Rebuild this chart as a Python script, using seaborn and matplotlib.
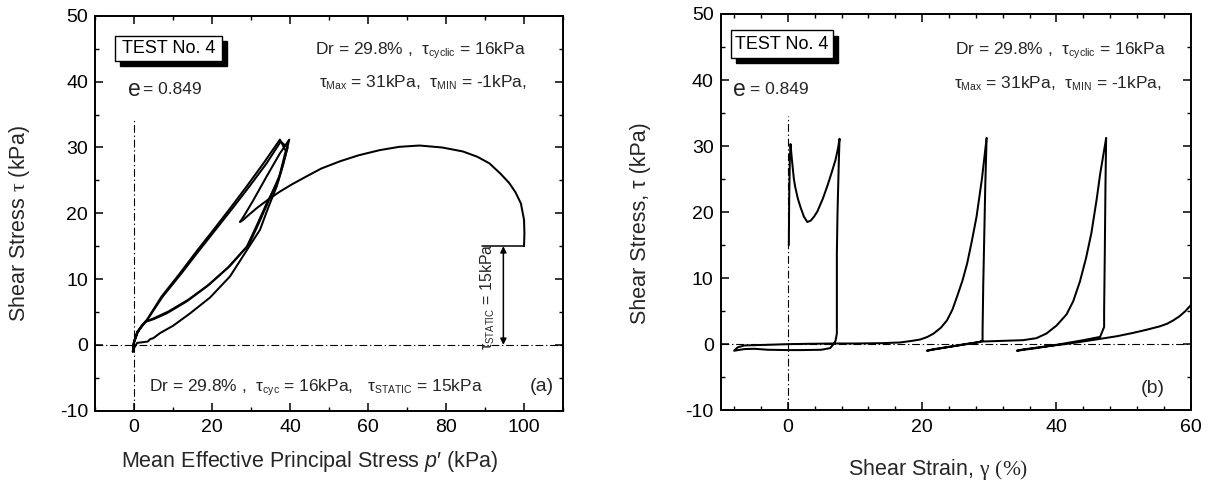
import matplotlib
matplotlib.use("Agg")
import matplotlib.pyplot as plt
import seaborn as sns
import pandas as pd
from matplotlib.ticker import MultipleLocator
from matplotlib.patches import Rectangle

try:
    import matplotlib._mathtext as _mt
    _mt.SHRINK_FACTOR = 0.6
except Exception:
    pass

# ---------------- data ----------------
# (a) effective stress path
p_flow = [100.0, 100.1, 100.0, 99.2, 97.8, 96.2, 94.0, 91.1, 88.0, 84.3, 79.0, 73.2, 68.0, 63.0,
          57.5, 52.8, 48.0, 44.2, 40.5, 37.4, 34.2, 31.5, 29.5, 28.0, 27.2]
tau_flow = [15.0, 17.0, 19.0, 21.5, 23.2, 24.6, 26.0, 27.6, 28.6, 29.4, 30.0, 30.3, 30.1, 29.6,
            28.8, 27.9, 26.8, 25.6, 24.4, 23.3, 22.0, 20.8, 19.8, 19.0, 18.7]

p_cyc1 = [27.2, 28.2, 30.6, 34.0, 37.4, 39.8, 38.3, 36.6, 34.5, 32.3, 28.5, 24.6, 19.5, 14.4,
          10.0, 6.7, 4.9, 4.2, 3.5, 0.8, 0.0, -0.3]
tau_cyc1 = [18.7, 19.6, 22.0, 25.6, 29.1, 31.2, 27.5, 24.1, 21.0, 17.5, 14.0, 10.4, 7.2, 4.8,
            2.9, 1.8, 1.0, 0.9, 0.5, 0.3, -0.5, -1.0]

p_cyc2 = [-0.3, -0.1, 0.8, 1.8, 3.3, 7.0, 11.8, 16.0, 20.4, 24.7, 28.9, 33.2, 37.4, 38.9, 37.0,
          34.0, 31.5, 28.9, 24.0, 18.7, 13.5, 8.4, 5.0, 2.9, 0.8, 0.0, -0.3]
tau_cyc2 = [-1.0, 0.25, 1.8, 2.8, 3.8, 7.3, 10.9, 14.2, 17.5, 20.8, 24.1, 27.6, 31.2, 29.5, 25.0,
            21.5, 18.2, 14.9, 11.7, 8.9, 6.6, 4.8, 3.9, 3.5, 2.0, 0.5, -1.0]

p_cyc3 = [-0.3, 0.0, 0.9, 2.0, 3.5, 7.3, 12.2, 16.5, 20.9, 25.3, 29.6, 34.0, 37.6, 39.4, 37.5,
          34.6, 32.0, 29.5, 24.6, 19.3, 14.0, 8.9, 5.3, 2.9, 1.0, 0.0, -0.3]
tau_cyc3 = [-1.0, 0.3, 1.9, 2.9, 3.9, 7.3, 10.9, 14.2, 17.5, 20.8, 24.1, 27.6, 30.9, 30.0, 26.0,
            22.0, 18.5, 15.3, 12.0, 9.2, 6.9, 5.1, 4.1, 3.5, 2.0, 0.5, -1.0]

# (b) stress-strain
gam_c1 = [0.15, 0.2, 0.3, 0.4, 0.6, 0.9, 1.1, 1.5, 1.9, 2.4, 2.9, 3.4, 3.9, 4.4, 5.2, 5.9, 6.5,
          7.1, 7.5, 7.7, 7.6, 7.4, 7.3, 7.3, 7.3, 7.1, 6.8, 6.3, 5.0, 2.0, 0.0, -3.0, -5.0, -6.5,
          -8.0, -7.5, -6.5, -3.0, 0.0, 3.0, 6.8, 10.0, 14.0, 16.7, 18.5, 19.7, 20.8, 21.7, 22.8,
          23.7, 24.5, 25.2, 26.0, 26.7, 27.4, 28.1, 28.9, 29.6]
tau_c1 = [15.0, 22.0, 28.0, 30.3, 28.0, 25.0, 23.8, 22.0, 20.7, 19.3, 18.5, 18.7, 19.3, 20.1,
          22.0, 24.0, 25.9, 27.9, 29.8, 31.1, 28.0, 20.0, 13.7, 6.0, 1.6, 0.5, 0.0, -0.6, -0.85,
          -0.9, -0.9, -0.85, -0.7, -0.75, -1.0, -0.5, -0.2, -0.1, 0.0, 0.05, 0.1, 0.1, 0.15, 0.25,
          0.5, 0.7, 1.1, 1.6, 2.5, 3.6, 5.2, 7.2, 9.6, 12.2, 15.6, 19.3, 25.0, 31.2]

gam_c2 = [29.6, 29.4, 29.3, 29.1, 29.0, 29.0, 28.5, 26.0, 23.0, 20.7, 21.5, 24.0, 27.0, 29.0,
          32.0, 35.0, 37.0, 38.5, 40.0, 41.5, 42.5, 43.5, 44.4, 45.2, 46.0, 46.5, 47.4]
tau_c2 = [31.2, 24.0, 18.8, 9.0, 2.0, 0.6, 0.3, -0.1, -0.6, -1.0, -0.8, -0.4, 0.1, 0.4, 0.5,
          0.6, 0.9, 1.6, 2.8, 4.5, 6.5, 9.5, 13.0, 16.8, 22.0, 25.7, 31.2]

gam_c3 = [47.4, 47.3, 47.2, 47.1, 47.1, 46.5, 44.0, 40.0, 37.0, 34.1, 35.0, 38.0, 42.0, 46.5,
          49.0, 51.4, 53.5, 55.4, 56.5, 57.4, 58.3, 59.2, 60.0]
tau_c3 = [31.2, 24.0, 13.7, 5.0, 2.6, 1.1, 0.6, -0.1, -0.6, -1.0, -0.8, -0.4, 0.1, 0.8, 1.2,
          1.7, 2.2, 2.7, 3.1, 3.6, 4.2, 5.0, 5.9]

x_ticks_a = [0, 20, 40, 60, 80, 100]
x_ticks_b = [0, 20, 40, 60]
y_ticks = [-10, 0, 10, 20, 30, 40, 50]

# ---------------- style ----------------
sns.set_style("ticks")
plt.rcParams.update({
    "font.family": ["Liberation Sans", "DejaVu Sans"],
    "mathtext.fontset": "custom",
    "mathtext.rm": "Liberation Serif",
    "mathtext.sf": "Liberation Sans",
    "mathtext.it": "Liberation Sans:italic",
    "axes.unicode_minus": False,
    "xtick.direction": "in", "ytick.direction": "in",
    "xtick.top": True, "ytick.right": True,
    "xtick.major.size": 5.5, "ytick.major.size": 5.5,
    "xtick.minor.size": 3.2, "ytick.minor.size": 3.2,
    "xtick.major.width": 1.1, "ytick.major.width": 1.1,
    "xtick.minor.width": 1.0, "ytick.minor.width": 1.0,
    "axes.linewidth": 1.4,
    "axes.edgecolor": "black",
    "xtick.color": "black", "ytick.color": "black",
    "xtick.labelsize": 14, "ytick.labelsize": 14,
    "xtick.major.pad": 6, "ytick.major.pad": 5,
})

fig = plt.figure(figsize=(12.09, 4.82), dpi=100)
axA = fig.add_axes([0.0786, 0.148, 0.3871, 0.819])
axB = fig.add_axes([0.5961, 0.149, 0.3888, 0.822])

DASHDOT = (0, (7, 2.5, 1.2, 2.5))
LW = 1.45
TXT = 12.5
LBL = 15.5


def curve(ax, xs, ys):
    df = pd.DataFrame({"x": xs, "y": ys})
    sns.lineplot(data=df, x="x", y="y", sort=False, estimator=None, color="black",
                 lw=LW, ax=ax, legend=False)


def test_box(ax, x0, y0, w, h, dx, dy):
    ax.add_patch(Rectangle((x0 + dx, y0 - dy), w, h, fc="black", ec="black", lw=1, zorder=4))
    ax.add_patch(Rectangle((x0, y0), w, h, fc="white", ec="black", lw=1, zorder=5))
    ax.text(x0 + w / 2, y0 + h / 2, "TEST No. 4", fontsize=13, color="black",
            ha="center", va="center", zorder=6)


# ---------------- (a) ----------------
for xs, ys in [(p_flow, tau_flow), (p_cyc1, tau_cyc1), (p_cyc2, tau_cyc2), (p_cyc3, tau_cyc3)]:
    curve(axA, xs, ys)

axA.axhline(0, color="black", lw=0.8, ls=DASHDOT, zorder=1)
axA.plot([0, 0], [-10, 34.5], color="black", lw=0.8, ls=DASHDOT, zorder=1)
axA.plot([89.3, 100], [15, 15], color="black", lw=1.1)
axA.annotate("", xy=(94.7, 0), xytext=(94.7, 15),
             arrowprops=dict(arrowstyle="<|-|>", color="black", lw=1.1,
                             mutation_scale=9, shrinkA=0, shrinkB=0))
axA.text(90.6, 7.3, r"τ$_{\mathsf{STATIC}}$ = 15kPa", rotation=90, fontsize=11.5,
         ha="center", va="center")

axA.set_xlim(-10, 110)
axA.set_ylim(-10, 50)
axA.set_xticks(x_ticks_a)
axA.set_yticks(y_ticks)
axA.xaxis.set_minor_locator(MultipleLocator(10))
axA.yaxis.set_minor_locator(MultipleLocator(5))
axA.set_xlabel("Mean Effective Principal Stress $p$′ (kPa)", fontsize=LBL)
axA.set_ylabel(r"Shear Stress $\mathrm{τ}$ (kPa)", fontsize=LBL)
axA.xaxis.set_label_coords(0.459, -0.096)
axA.yaxis.set_label_coords(-0.135, 0.473)

test_box(axA, -4.8, 43.2, 27.4, 3.8, 1.3, 0.75)
axA.text(-1.5, 38.8, "e", fontsize=16.5, ha="left", va="center")
axA.text(2.3, 38.8, "= 0.849", fontsize=12.5, ha="left", va="center")
axA.text(46.3, 44.8, r"Dr = 29.8% ,  τ$_{\mathsf{cyclic}}$ = 16kPa", fontsize=TXT,
         ha="left", va="center")
axA.text(47.4, 39.8, r"τ$_{\mathsf{Max}}$ = 31kPa,  τ$_{\mathsf{MIN}}$ = -1kPa,", fontsize=TXT,
         ha="left", va="center")
axA.text(3.9, -6.5, r"Dr = 29.8% ,  τ$_{\mathsf{cyc}}$ = 16kPa,   τ$_{\mathsf{STATIC}}$ = 15kPa",
         fontsize=TXT, ha="left", va="center")
axA.text(104.5, -6.4, "(a)", fontsize=14, ha="center", va="center")

# ---------------- (b) ----------------
for xs, ys in [(gam_c1, tau_c1), (gam_c2, tau_c2), (gam_c3, tau_c3)]:
    curve(axB, xs, ys)

axB.axhline(0, color="black", lw=0.8, ls=DASHDOT, zorder=1)
axB.plot([0, 0], [-10, 34.5], color="black", lw=0.8, ls=DASHDOT, zorder=1)

axB.set_xlim(-10, 60)
axB.set_ylim(-10, 50)
axB.set_xticks(x_ticks_b)
axB.set_yticks(y_ticks)
axB.xaxis.set_minor_locator(MultipleLocator(4))
axB.yaxis.set_minor_locator(MultipleLocator(5))
axB.set_xlabel(r"Shear Strain, $\mathrm{γ\ (\%)}$", fontsize=LBL)
axB.set_ylabel("Shear Stress, τ (kPa)", fontsize=LBL)
axB.xaxis.set_label_coords(0.462, -0.118)
axB.yaxis.set_label_coords(-0.148, 0.471)

test_box(axB, -8.5, 43.4, 15.3, 4.1, 0.74, 0.76)
axB.text(-8.2, 38.5, "e", fontsize=16.5, ha="left", va="center")
axB.text(-5.6, 38.5, "= 0.849", fontsize=12.5, ha="left", va="center")
axB.text(24.9, 44.5, r"Dr = 29.8% ,  τ$_{\mathsf{cyclic}}$ = 16kPa", fontsize=TXT,
         ha="left", va="center")
axB.text(24.7, 39.5, r"τ$_{\mathsf{Max}}$ = 31kPa,  τ$_{\mathsf{MIN}}$ = -1kPa,", fontsize=TXT,
         ha="left", va="center")
axB.text(54.4, -6.7, "(b)", fontsize=14, ha="center", va="center")

fig.savefig("out.png", dpi=100)
